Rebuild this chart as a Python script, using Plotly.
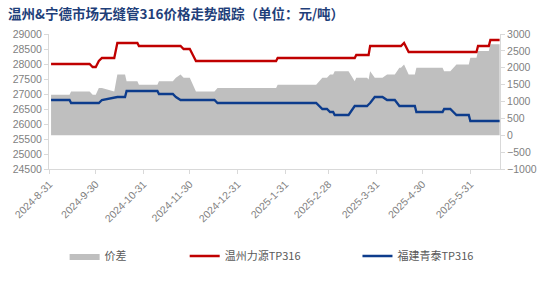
import plotly.graph_objects as go

# ---- data ----
dates = [
    "2024-09-01", "2024-09-13", "2024-09-14", "2024-09-26", "2024-09-28", "2024-09-30",
    "2024-10-02", "2024-10-04", "2024-10-12", "2024-10-14", "2024-10-19", "2024-10-20",
    "2024-10-27", "2024-10-28", "2024-11-09", "2024-11-10", "2024-11-19", "2024-11-21",
    "2024-11-24", "2024-11-26", "2024-11-30", "2024-12-02", "2024-12-04", "2024-12-16",
    "2024-12-18", "2025-01-25", "2025-01-26", "2025-02-20", "2025-02-24", "2025-02-27",
    "2025-03-01", "2025-03-03", "2025-03-04", "2025-03-13", "2025-03-17", "2025-03-18",
    "2025-03-25", "2025-03-26", "2025-03-27", "2025-03-30", "2025-04-04", "2025-04-07",
    "2025-04-12", "2025-04-15", "2025-04-16", "2025-04-18", "2025-04-21", "2025-04-25",
    "2025-04-26", "2025-05-13", "2025-05-14", "2025-05-18", "2025-05-22", "2025-05-30",
    "2025-05-31", "2025-06-04", "2025-06-05", "2025-06-12", "2025-06-13", "2025-06-19",
]
wenzhou_tp316 = [
    28000, 28000, 28000, 28000, 27900, 27900,
    28100, 28200, 28200, 28700, 28700, 28700,
    28700, 28600, 28600, 28600, 28600, 28600,
    28600, 28500, 28500, 28300, 28100, 28100,
    28100, 28100, 28200, 28200, 28200, 28200,
    28200, 28200, 28200, 28200, 28200, 28300,
    28300, 28300, 28600, 28600, 28600, 28600,
    28600, 28600, 28600, 28700, 28400, 28400,
    28400, 28400, 28400, 28400, 28400, 28400,
    28400, 28400, 28600, 28600, 28800, 28800,
]
fujian_tp316 = [
    26800, 26800, 26700, 26700, 26700, 26700,
    26700, 26800, 26900, 26900, 26900, 27100,
    27100, 27100, 27100, 27000, 27000, 26900,
    26800, 26800, 26800, 26800, 26800, 26800,
    26700, 26700, 26700, 26700, 26500, 26500,
    26400, 26400, 26300, 26300, 26600, 26600,
    26600, 26650, 26700, 26900, 26900, 26800,
    26800, 26600, 26600, 26600, 26600, 26600,
    26400, 26400, 26500, 26500, 26300, 26300,
    26100, 26100, 26100, 26100, 26100, 26100,
]
spread = [r - b for r, b in zip(wenzhou_tp316, fujian_tp316)]

tick_dates = ["2024-08-31", "2024-09-30", "2024-10-31", "2024-11-30", "2024-12-31",
              "2025-01-31", "2025-02-28", "2025-03-31", "2025-04-30", "2025-05-31"]
tick_labels = ["2024-8-31", "2024-9-30", "2024-10-31", "2024-11-30", "2024-12-31",
               "2025-1-31", "2025-2-28", "2025-3-31", "2025-4-30", "2025-5-31"]

title_text = "温州&宁德市场无缝管316价格走势跟踪（单位：元/吨）"
names = ["价差", "温州力源TP316", "福建青泰TP316"]

# ---- styles ----
GRAY_FILL = "#BFBFBF"
RED = "#C00000"
BLUE = "#0D3C8C"
AXIS = "#D9D9D9"
TICKTXT = "#7F7F7F"
LEGTXT = "#595959"
tick_font = dict(family="Liberation Sans, Arial, sans-serif", size=10.5, color=TICKTXT)
leg_font = dict(family="Noto Sans CJK SC, sans-serif", size=11, color=LEGTXT)

fig = go.Figure()
# spread area on the base (right-hand) axis so the price lines render above it
fig.add_trace(go.Scatter(
    x=dates, y=spread, name=names[0], yaxis="y", mode="lines",
    line=dict(width=0, color=GRAY_FILL), fill="tozeroy", fillcolor=GRAY_FILL,
    legend="legend", hoverinfo="skip"))
fig.add_trace(go.Scatter(
    x=dates, y=wenzhou_tp316, name=names[1], yaxis="y2", mode="lines",
    line=dict(width=2.3, color=RED), legend="legend2"))
fig.add_trace(go.Scatter(
    x=dates, y=fujian_tp316, name=names[2], yaxis="y2", mode="lines",
    line=dict(width=2.3, color=BLUE), legend="legend3"))

W, H = 549, 284
L, R, T, B = 44, 43, 34, 115
pw = W - L - R
ph = H - T - B

def px_x(x):
    return (x - L) / pw

def px_y(y):
    return (H - B - y) / ph

leg_common = dict(orientation="h", yanchor="middle", xanchor="left",
                  font=leg_font, bgcolor="rgba(0,0,0,0)", borderwidth=0,
                  itemwidth=30, tracegroupgap=0)

fig.update_layout(
    width=W, height=H,
    margin=dict(l=L, r=R, t=T, b=B, pad=0),
    paper_bgcolor="white", plot_bgcolor="white",
    title=dict(text=title_text, x=8 / W, xanchor="left", xref="container",
               y=1 - 14 / H, yanchor="middle", yref="container",
               font=dict(family="Noto Sans CJK SC, sans-serif", size=13.5,
                         color="#1F3F7A", weight="bold")),
    xaxis=dict(type="date", range=["2024-08-30 16:00", "2025-06-19 06:00"],
               tickmode="array", tickvals=tick_dates, ticktext=tick_labels,
               tickangle=-45, tickfont=tick_font, showgrid=False, zeroline=False,
               showline=True, linecolor=AXIS, linewidth=1,
               ticks="outside", ticklen=4, tickcolor=AXIS),
    yaxis=dict(range=[-1000, 3000], dtick=500, tick0=-1000, tickfont=tick_font,
               side="right", showgrid=False, zeroline=False,
               showline=True, linecolor=AXIS, ticks="outside", ticklen=4,
               tickcolor=AXIS, tickformat="d"),
    yaxis2=dict(range=[24500, 29000], dtick=500, tick0=24500, tickfont=tick_font,
                overlaying="y", side="left", showgrid=False, zeroline=False,
                showline=True, linecolor=AXIS, ticks="outside", ticklen=4,
                tickcolor=AXIS, tickformat="d"),
    legend=dict(x=px_x(60), y=px_y(256), **leg_common),
    legend2=dict(x=px_x(183), y=px_y(256), **leg_common),
    legend3=dict(x=px_x(360), y=px_y(256), **leg_common),
    showlegend=True,
)

fig.write_html("out.html")
